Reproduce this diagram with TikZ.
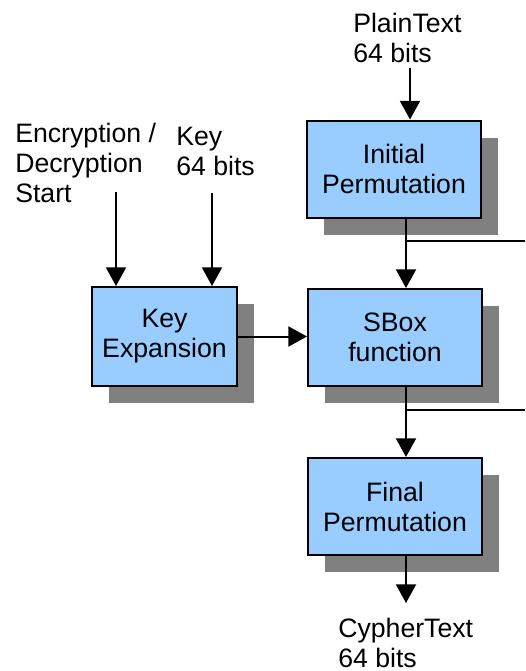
\documentclass[tikz,border=0pt]{standalone}
\usepackage{xcolor}
\usepackage{fontspec}
\setmainfont{Liberation Sans}
\usepackage{tikz}
\usetikzlibrary{arrows.meta, shadows, positioning}

\definecolor{boxblue}{RGB}{153,204,255}
\definecolor{shadowgray}{RGB}{128,128,128}
\newcommand{\blkfont}{\fontsize{20}{22.5}\selectfont}

\begin{document}
\begin{tikzpicture}[x=0.75pt, y=-0.75pt,
    blk/.style={draw=black, line width=1.5pt, fill=boxblue,
        minimum width=130.5pt, minimum height=72.75pt,
        align=center, inner sep=0pt, font=\blkfont,
        drop shadow={shadow xshift=12.75pt, shadow yshift=-12.75pt,
            fill=shadowgray, opacity=1}},
    lbl/.style={align=left, inner sep=0pt, anchor=base west, font=\blkfont},
    flow/.style={line width=1.5pt, -{Triangle[width=15pt, length=14pt]}},
    wire/.style={line width=1.5pt}]
    \useasboundingbox (0,0) rectangle (525,671);

    % 数据通路上的三个模块
    \node[blk] (init) at (394,169) {Initial\\Permutation};
    \node[blk] (sbox) at (395,337.5) {SBox\\function};
    \node[blk] (final) at (395,506.5) {Final\\Permutation};
    % 密钥扩展
    \node[blk, minimum width=108.75pt, minimum height=74.25pt] (keyexp) at (164.5,336.5) {Key\\Expansion};

    % 输入输出标注（基线取最后一行）
    \node[lbl] (plain) at (353,62) {PlainText\\64 bits};
    \node[lbl] (encdec) at (15,202) {Encryption /\\Decryption\\Start};
    \node[lbl] (key) at (176,175) {Key\\64 bits};
    \node[lbl] (cypher) at (338,667) {CypherText\\64 bits};

    \coordinate (bus) at (406,0);
    \coordinate (ptin) at (410,68);
    \coordinate (edin) at (116,192);
    \coordinate (kyin) at (212,193);
    \coordinate (ctout) at (406,603);
    \coordinate (tap1) at (406,241);
    \coordinate (out1) at (525,241);
    \coordinate (tap2) at (406,410);
    \coordinate (out2) at (525,410);

    % 连线
    \draw[flow] (ptin) -- (ptin |- init.north);
    \draw[flow] (edin) -- (edin |- keyexp.north);
    \draw[flow] (kyin) -- (kyin |- keyexp.north);
    \draw[flow] (keyexp.east) -- (keyexp.east -| sbox.west);
    \draw[flow] (init.south -| bus) -- (sbox.north -| bus);
    \draw[flow] (sbox.south -| bus) -- (final.north -| bus);
    \draw[flow] (final.south -| bus) -- (ctout);
    \draw[wire] (tap1) -- (out1);
    \draw[wire] (tap2) -- (out2);
\end{tikzpicture}
\end{document}
